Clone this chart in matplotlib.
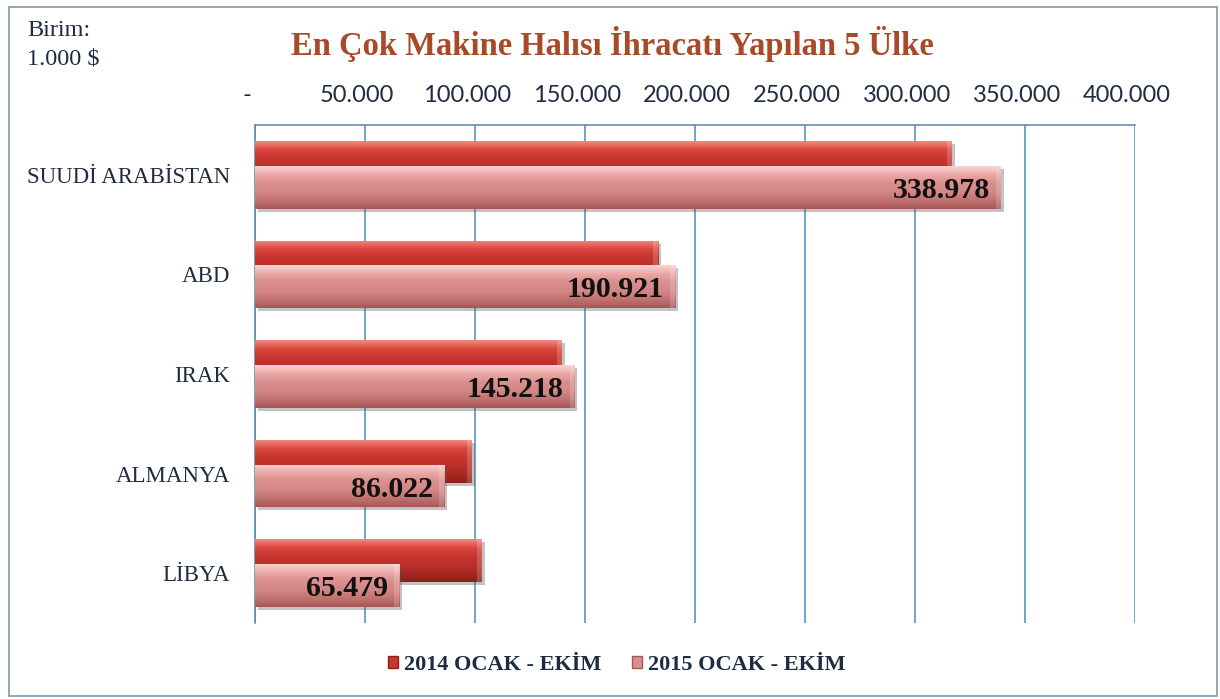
import numpy as np
import matplotlib
matplotlib.use("Agg")
import matplotlib.pyplot as plt
from matplotlib.colors import LinearSegmentedColormap
from matplotlib.patches import Rectangle
import matplotlib.transforms as mtransforms

# ---------------- data ----------------
countries = ["SUUDİ ARABİSTAN", "ABD", "IRAK", "ALMANYA", "LİBYA"]
values_2014 = [316800, 183200, 139500, 98500, 103000]
values_2015 = [338978, 190921, 145218, 86022, 65479]
series_names = ["2014 OCAK - EKİM", "2015 OCAK - EKİM"]
tick_values = [0, 50000, 100000, 150000, 200000, 250000, 300000, 350000, 400000]
tick_labels = ["-", "50.000", "100.000", "150.000", "200.000", "250.000",
               "300.000", "350.000", "400.000"]
value_labels = ["338.978", "190.921", "145.218", "86.022", "65.479"]
title = "En Çok Makine Halısı İhracatı Yapılan 5 Ülke"
unit_text = "Birim:\n1.000 $"

# ---------------- styles ----------------
W, H, DPI = 1220, 699, 100
serif = ["Liberation Serif", "DejaVu Serif"]
sans = ["Lato", "DejaVu Sans"]
navy = "#1E2B40"
grid_col = "#4A8DB5"
title_col = "#A84A27"

cmap14 = LinearSegmentedColormap.from_list(
    "c14", ["#F2877E", "#D9473D", "#C7362E", "#BC302A", "#A82822", "#8E1F1B"])
cmap15 = LinearSegmentedColormap.from_list(
    "c15", ["#F9D3D2", "#EBA7A5", "#D98F8D", "#D48886", "#C27271", "#A55756"])
solid14 = "#C7362E"
solid15 = "#D98F8D"

fig = plt.figure(figsize=(W / DPI, H / DPI), dpi=DPI)
fig.patch.set_facecolor("white")

# outer border
fig.add_artist(Rectangle((9 / W, 3 / H), (1217 - 9) / W, (692 - 3) / H,
                         transform=fig.transFigure, fill=False,
                         edgecolor="#7F98AA", linewidth=1.2))

ax = fig.add_axes([255 / W, 1 - 623 / H, 880 / W, (623 - 125) / H])
ax.set_facecolor("white")

y = np.arange(len(countries))
h = 0.43
off = 0.125
grad = np.linspace(0, 1, 64).reshape(-1, 1)


def shaded_bars(vals, ypos, cmap, solid, z):
    # shadow
    ax.barh(ypos + 0.03, vals, height=h, left=0, color="#555555", alpha=0.35,
            zorder=z - 0.5, transform=ax.transData +
            mtransforms.ScaledTranslation(3 / DPI, 0, fig.dpi_scale_trans))
    bars = ax.barh(ypos, vals, height=h, color=solid, edgecolor="none", zorder=z)
    for b in bars:
        x0, y0 = b.get_x(), b.get_y()
        w, hh = b.get_width(), b.get_height()
        im = ax.imshow(grad, cmap=cmap, aspect="auto", origin="upper",
                       extent=(x0, x0 + w, y0 + hh, y0), zorder=z + 0.1,
                       interpolation="bilinear")
        im.set_clip_path(b)
        # slight bevel at the right end
        ax.add_patch(Rectangle((x0 + w - 2200, y0), 2200, hh,
                               facecolor="white", alpha=0.18, edgecolor="none",
                               zorder=z + 0.2))
    return bars


b14 = shaded_bars(values_2014, y - off, cmap14, solid14, 3)
b15 = shaded_bars(values_2015, y + off, cmap15, solid15, 5)

# value labels for 2015 series
for yi, v, lab in zip(y, values_2015, value_labels):
    ax.annotate(lab, xy=(v, yi + off + 0.03), xytext=(-8, 0),
                textcoords="offset points", ha="right", va="center",
                fontsize=21.5, fontweight="bold", family=serif, color="#111111",
                zorder=10)

ax.set_xlim(0, 400000)
ax.set_ylim(len(countries) - 0.5, -0.5)

ax.set_yticks(y)
ax.set_yticklabels(countries, family=serif, fontsize=16.5, color=navy)
ax.tick_params(axis="y", length=0, pad=18)

ax.xaxis.tick_top()
ax.set_xticks(tick_values)
ax.set_xticklabels(tick_labels, family=sans, fontsize=17, color=navy)
ax.tick_params(axis="x", length=0, pad=14)
shift = mtransforms.ScaledTranslation(-8 / DPI, 0, fig.dpi_scale_trans)
for lbl in ax.get_xticklabels():
    lbl.set_transform(lbl.get_transform() + shift)

ax.grid(axis="x", color=grid_col, linewidth=1.1, zorder=0)
ax.set_axisbelow(True)
for side in ["bottom", "right"]:
    ax.spines[side].set_visible(False)
for side in ["top", "left"]:
    ax.spines[side].set_color(grid_col)
    ax.spines[side].set_linewidth(1.1)

# title and unit
fig.text(612 / W, 1 - 44 / H, title, ha="center", va="center", family=serif,
         fontsize=23.5, fontweight="bold", color=title_col)
fig.text(27 / W, 1 - 20 / H, unit_text, ha="left", va="top", family=serif,
         fontsize=17.5, color=navy, linespacing=1.45)

# legend
handles = [Rectangle((0, 0), 1, 1, facecolor=solid14, edgecolor="#8E1F1B"),
           Rectangle((0, 0), 1, 1, facecolor=solid15, edgecolor="#A55756")]
leg = fig.legend(handles, series_names, loc="center",
                 bbox_to_anchor=(617 / W, 1 - 665 / H), ncol=2, frameon=False,
                 prop={"family": serif, "weight": "bold", "size": 16},
                 handlelength=0.45, handleheight=0.45, handletextpad=0.25,
                 columnspacing=1.4)
for t in leg.get_texts():
    t.set_color(navy)

fig.savefig("out.png", dpi=DPI, facecolor="white")
